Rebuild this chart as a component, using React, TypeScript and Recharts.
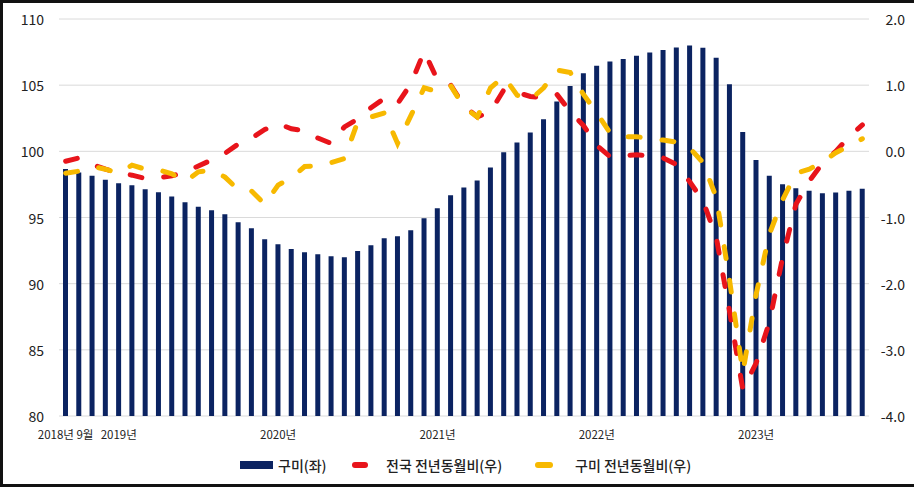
import React from 'react';
import { ComposedChart, Bar, Line, XAxis, YAxis, CartesianGrid } from 'recharts';

const months = [
  '2018-09', '2018-10', '2018-11', '2018-12',
  '2019-01', '2019-02', '2019-03', '2019-04', '2019-05', '2019-06', '2019-07', '2019-08', '2019-09', '2019-10', '2019-11', '2019-12',
  '2020-01', '2020-02', '2020-03', '2020-04', '2020-05', '2020-06', '2020-07', '2020-08', '2020-09', '2020-10', '2020-11', '2020-12',
  '2021-01', '2021-02', '2021-03', '2021-04', '2021-05', '2021-06', '2021-07', '2021-08', '2021-09', '2021-10', '2021-11', '2021-12',
  '2022-01', '2022-02', '2022-03', '2022-04', '2022-05', '2022-06', '2022-07', '2022-08', '2022-09', '2022-10', '2022-11', '2022-12',
  '2023-01', '2023-02', '2023-03', '2023-04', '2023-05', '2023-06', '2023-07', '2023-08', '2023-09',
];

// 구미 (좌축)
const gumiIndex = [
  98.67, 98.4, 98.16, 97.86,
  97.59, 97.44, 97.14, 96.9, 96.58, 96.15, 95.82, 95.55, 95.25, 94.64, 94.19, 93.36,
  92.98, 92.62, 92.37, 92.22, 92.07, 92.0, 92.47, 92.9, 93.43, 93.58, 94.03, 94.94,
  95.7, 96.68, 97.26, 97.79, 98.77, 99.93, 100.66, 101.42, 102.43, 103.76, 104.94, 105.9,
  106.46, 106.78, 106.98, 107.23, 107.46, 107.66, 107.84, 107.99, 107.82, 107.08, 105.07, 101.47,
  99.35, 98.16, 97.51, 97.21, 97.03, 96.83, 96.88, 97.03, 97.18,
];

// 전국 전년동월비 (우축)
const nationalYoY = [
  -0.15, -0.1, -0.2, -0.27,
  -0.33, -0.36, -0.41, -0.4, -0.37, -0.32, -0.22, -0.13, -0.03, 0.11, 0.2, 0.33,
  0.42, 0.34, 0.31, 0.2, 0.12, 0.37, 0.49, 0.66, 0.8, 0.72, 1.02, 1.51,
  1.08, 1.0, 0.69, 0.52, 0.6, 0.93, 0.89, 0.83, 0.81, 0.86, 0.6, 0.39,
  0.09, -0.08, -0.07, -0.05, -0.07, -0.1, -0.2, -0.46, -0.75, -1.3, -2.42, -3.6,
  -3.2, -2.58, -1.6, -0.8, -0.45, -0.18, 0.0, 0.22, 0.4,
];

// 구미 전년동월비 (우축)
const gumiYoY = [
  -0.33, -0.3, -0.23, -0.27,
  -0.33, -0.21, -0.27, -0.28, -0.34, -0.46, -0.31, -0.28, -0.39, -0.58, -0.6, -0.8,
  -0.51, -0.4, -0.23, -0.22, -0.17, -0.11, 0.45, 0.52, 0.58, 0.12, 0.54, 0.96,
  0.9, 0.99, 0.67, 0.52, 0.96, 1.13, 0.85, 0.78, 0.96, 1.23, 1.19, 0.86,
  0.58, 0.28, 0.22, 0.22, 0.2, 0.17, 0.14, 0.05, -0.17, -0.7, -1.95, -3.34,
  -2.16, -1.25, -0.73, -0.33, -0.27, -0.16, -0.02, 0.08, 0.19,
];

const xTickMonths = ['2018-09', '2019-01', '2020-01', '2021-01', '2022-01', '2023-01'];
const xTickLabels = ['2018년 9월', '2019년', '2020년', '2021년', '2022년', '2023년'];
const leftTicks = [80, 85, 90, 95, 100, 105, 110];
const rightTicks = [-4, -3, -2, -1, 0, 1, 2];

const seriesNames = ['구미(좌)', '전국 전년동월비(우)', '구미 전년동월비(우)'];

const NAVY = '#0b2361';
const RED = '#e8141b';
const YELLOW = '#f7b900';
const FONT = '"Noto Sans CJK KR", "Noto Sans", sans-serif';

const data = months.map((m, i) => ({
  month: m,
  gumi: gumiIndex[i],
  nat: nationalYoY[i],
  gyoy: gumiYoY[i],
}));

const LeftTick = (props: any) => {
  const { y, payload } = props;
  return (
    <text x={44} y={y} textAnchor="end" dominantBaseline="central" fontSize={14} fill="#222" fontFamily={FONT}>
      {String(payload.value)}
    </text>
  );
};

const RightTick = (props: any) => {
  const { y, payload } = props;
  return (
    <text x={905} y={y} textAnchor="end" dominantBaseline="central" fontSize={14} fill="#222" fontFamily={FONT}>
      {Number(payload.value).toFixed(1)}
    </text>
  );
};

const BottomTick = (props: any) => {
  const { x, y, payload } = props;
  const idx = xTickMonths.indexOf(payload.value);
  const label = idx >= 0 ? xTickLabels[idx] : '';
  return (
    <text x={x} y={y + 18} textAnchor="middle" dominantBaseline="central" fontSize={11.5} fill="#222" fontFamily={FONT}>
      {label}
    </text>
  );
};

export default function App() {
  return (
    <div style={{ position: 'absolute', left: 0, top: 0, width: 914, height: 487, overflow: 'hidden', background: '#fff' }}>
      <div
        style={{
          position: 'absolute',
          left: 0,
          top: 0,
          width: 940,
          height: 487,
          boxSizing: 'border-box',
          border: '3px solid #111',
        }}
      />
      <div style={{ position: 'absolute', left: 0, top: 0 }}>
        <ComposedChart width={914} height={487} data={data} margin={{ top: 19, right: 0, bottom: 0, left: 0 }}>
          <CartesianGrid yAxisId="left" vertical={false} stroke="#dadada" strokeWidth={1} />
          <XAxis
            dataKey="month"
            ticks={xTickMonths}
            interval={0}
            axisLine={false}
            tickLine={false}
            tickSize={0}
            tickMargin={0}
            height={71}
            tick={<BottomTick />}
          />
          <YAxis
            yAxisId="left"
            orientation="left"
            domain={[80, 110]}
            ticks={leftTicks}
            width={59}
            axisLine={false}
            tickLine={false}
            tick={<LeftTick />}
          />
          <YAxis
            yAxisId="right"
            orientation="right"
            domain={[-4, 2]}
            ticks={rightTicks}
            width={45}
            axisLine={false}
            tickLine={false}
            tick={<RightTick />}
          />
          <Bar yAxisId="left" dataKey="gumi" name={seriesNames[0]} fill={NAVY} barSize={5} isAnimationActive={false} />
          <Line
            yAxisId="right"
            type="linear"
            dataKey="nat"
            name={seriesNames[1]}
            stroke={RED}
            strokeWidth={5}
            strokeDasharray="12 22"
            strokeLinecap="round"
            dot={false}
            activeDot={false}
            isAnimationActive={false}
          />
          <Line
            yAxisId="right"
            type="linear"
            dataKey="gyoy"
            name={seriesNames[2]}
            stroke={YELLOW}
            strokeWidth={5}
            strokeDasharray="12 22"
            strokeLinecap="round"
            dot={false}
            activeDot={false}
            isAnimationActive={false}
          />
        </ComposedChart>
      </div>
      <div style={{ position: 'absolute', left: 0, top: 455, width: 914, height: 20, fontFamily: FONT, fontSize: 14, fontWeight: 500, color: '#222' }}>
        <div style={{ position: 'absolute', left: 240, top: 6, width: 33, height: 8, background: NAVY }} />
        <div style={{ position: 'absolute', left: 278, top: 0, lineHeight: '20px' }}>{seriesNames[0]}</div>
        <div style={{ position: 'absolute', left: 352, top: 7, width: 16, height: 6, borderRadius: 3, background: RED }} />
        <div style={{ position: 'absolute', left: 386, top: 0, lineHeight: '20px' }}>{seriesNames[1]}</div>
        <div style={{ position: 'absolute', left: 535, top: 7, width: 18, height: 6, borderRadius: 3, background: YELLOW }} />
        <div style={{ position: 'absolute', left: 575, top: 0, lineHeight: '20px' }}>{seriesNames[2]}</div>
      </div>
    </div>
  );
}
